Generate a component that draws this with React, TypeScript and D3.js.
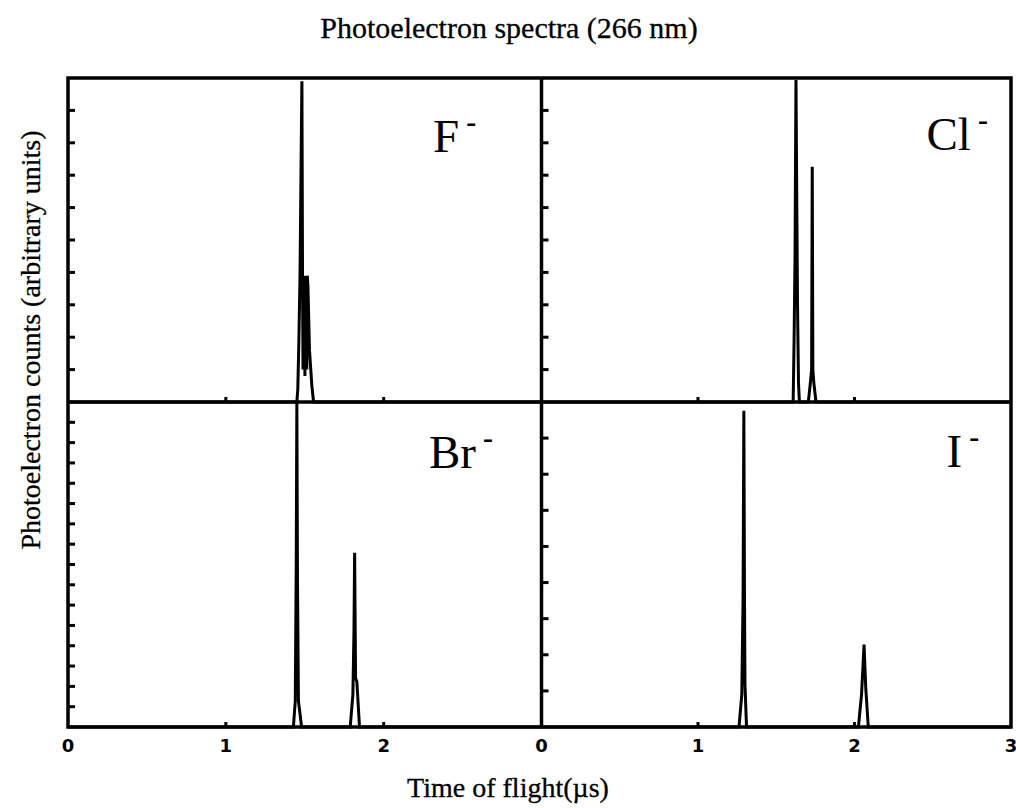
import React from 'react';
import * as d3 from 'd3';

// ---- text ----
const TITLE = 'Photoelectron spectra (266 nm)';
const X_TITLE = 'Time of flight(\u00b5s)';
const Y_TITLE = 'Photoelectron counts (arbitrary units)';

// ---- axes ----
const X_DOMAIN: [number, number] = [0, 3];
const X_TICK_LABELS_LEFT = [0, 1, 2];
const X_TICK_LABELS_RIGHT = [0, 1, 2, 3];
const X_MINOR_TICKS = [1, 2];

// ---- spectra (time of flight in µs, counts normalised to panel height) ----
const F_TIME = [0, 1.45, 1.456, 1.462, 1.47, 1.478, 1.482, 1.486, 1.489, 1.492, 1.495, 1.498, 1.501, 1.504, 1.507, 1.51, 1.513, 1.516, 1.52, 1.53, 1.545, 1.556, 3.0];
const F_COUNTS = [0, 0, 0.04, 0.17, 0.39, 0.8, 0.99, 0.39, 0.1, 0.39, 0.12, 0.39, 0.08, 0.39, 0.15, 0.39, 0.1, 0.39, 0.36, 0.16, 0.05, 0, 0];

const CL_TIME = [0, 1.608, 1.614, 1.62, 1.626, 1.631, 1.636, 1.642, 1.648, 1.705, 1.716, 1.726, 1.73, 1.734, 1.74, 1.754, 3.0];
const CL_COUNTS = [0, 0, 0.19, 0.45, 0.994, 0.63, 0.3, 0.06, 0, 0, 0.05, 0.1, 0.726, 0.1, 0.06, 0, 0];

const BR_TIME = [0, 1.428, 1.44, 1.446, 1.45, 1.454, 1.46, 1.48, 1.788, 1.805, 1.812, 1.816, 1.822, 1.83, 1.847, 3.0];
const BR_COUNTS = [0, 0, 0.08, 0.5, 1.0, 0.45, 0.08, 0, 0, 0.1, 0.3, 0.536, 0.15, 0.14, 0, 0];

const I_TIME = [0, 1.262, 1.28, 1.288, 1.293, 1.297, 1.3, 1.31, 2.025, 2.045, 2.055, 2.061, 2.066, 2.072, 2.088, 3.0];
const I_COUNTS = [0, 0, 0.1, 0.4, 0.973, 0.4, 0.134, 0, 0, 0.1, 0.196, 0.254, 0.19, 0.12, 0, 0];

// ---- panels ----
const PANELS = [
  { ion: 'F', time: F_TIME, counts: F_COUNTS, yDivisions: 10, col: 0, row: 0, labelDx: 365, labelDy: 74 },
  { ion: 'Cl', time: CL_TIME, counts: CL_COUNTS, yDivisions: 10, col: 1, row: 0, labelDx: 385, labelDy: 72 },
  { ion: 'Br', time: BR_TIME, counts: BR_COUNTS, yDivisions: 16, col: 0, row: 1, labelDx: 361, labelDy: 66 },
  { ion: 'I', time: I_TIME, counts: I_COUNTS, yDivisions: 9, col: 1, row: 1, labelDx: 405, labelDy: 65 },
];

// ---- layout ----
const W = 1016;
const H = 808;
const XS = [68, 541.5, 1011];
const YS = [78, 402, 727];

const SERIF = '"Liberation Serif", "Times New Roman", serif';
const SANS = '"DejaVu Sans", sans-serif';

function Panel({ p }: { p: (typeof PANELS)[number] }) {
  const x0 = XS[p.col];
  const x1 = XS[p.col + 1];
  const y0 = YS[p.row];
  const y1 = YS[p.row + 1];
  const x = d3.scaleLinear().domain(X_DOMAIN).range([x0, x1]);
  const y = d3.scaleLinear().domain([0, 1]).range([y1, y0]);
  const pts = p.time.map((t, i) => [t, p.counts[i]] as [number, number]);
  const line = d3
    .line<[number, number]>()
    .x((d) => x(d[0]))
    .y((d) => y(d[1]));
  const yTicks = d3.range(1, p.yDivisions).map((i) => i / p.yDivisions);
  return (
    <g>
      <path d={line(pts) || ''} fill="none" stroke="#000" strokeWidth={3} strokeLinejoin="miter" strokeMiterlimit={2} />
      {yTicks.map((v) => (
        <line key={v} x1={x0} x2={x0 + 7} y1={y(v)} y2={y(v)} stroke="#000" strokeWidth={3} />
      ))}
      {X_MINOR_TICKS.map((v) => (
        <line key={v} x1={x(v)} x2={x(v)} y1={y1} y2={y1 - 5} stroke="#000" strokeWidth={3} />
      ))}
      <text x={x0 + p.labelDx} y={y0 + p.labelDy} fontFamily={SERIF} fontSize={47} fill="#000">
        {p.ion}
        <tspan dx={7} dy={-20} fontSize={30} fontWeight="bold">-</tspan>
      </text>
    </g>
  );
}

export default function App() {
  const xl = d3.scaleLinear().domain(X_DOMAIN).range([XS[0], XS[1]]);
  const xr = d3.scaleLinear().domain(X_DOMAIN).range([XS[1], XS[2]]);
  return (
    <svg width={W} height={H} style={{ position: 'absolute', left: 0, top: 0, background: '#fff' }}>
      <rect x={0} y={0} width={W} height={H} fill="#fff" />
      <text x={509} y={38} textAnchor="middle" fontFamily={SERIF} fontSize={30} fill="#000" stroke="#000" strokeWidth={0.3}>
        {TITLE}
      </text>
      {PANELS.map((p) => (
        <Panel key={p.ion} p={p} />
      ))}
      {/* frame and dividers */}
      <rect x={XS[0]} y={YS[0]} width={XS[2] - XS[0]} height={YS[2] - YS[0]} fill="none" stroke="#000" strokeWidth={3.5} />
      <line x1={XS[1]} x2={XS[1]} y1={YS[0]} y2={YS[2]} stroke="#000" strokeWidth={3.5} />
      <line x1={XS[0]} x2={XS[2]} y1={YS[1]} y2={YS[1]} stroke="#000" strokeWidth={3.5} />
      {X_TICK_LABELS_LEFT.map((v) => (
        <text key={'l' + v} x={xl(v)} y={752} textAnchor="middle" fontFamily={SANS} fontWeight="bold" fontSize={18} fill="#000">
          {v}
        </text>
      ))}
      {X_TICK_LABELS_RIGHT.map((v) => (
        <text key={'r' + v} x={xr(v)} y={752} textAnchor="middle" fontFamily={SANS} fontWeight="bold" fontSize={18} fill="#000">
          {v}
        </text>
      ))}
      <text x={508} y={797} textAnchor="middle" fontFamily={SERIF} fontSize={28} fill="#000" stroke="#000" strokeWidth={0.3}>
        {X_TITLE}
      </text>
      <text
        transform={`translate(40, 340) rotate(-90)`}
        textAnchor="middle"
        fontFamily={SERIF}
        fontSize={28}
        fill="#000"
        stroke="#000"
        strokeWidth={0.3}
      >
        {Y_TITLE}
      </text>
    </svg>
  );
}
